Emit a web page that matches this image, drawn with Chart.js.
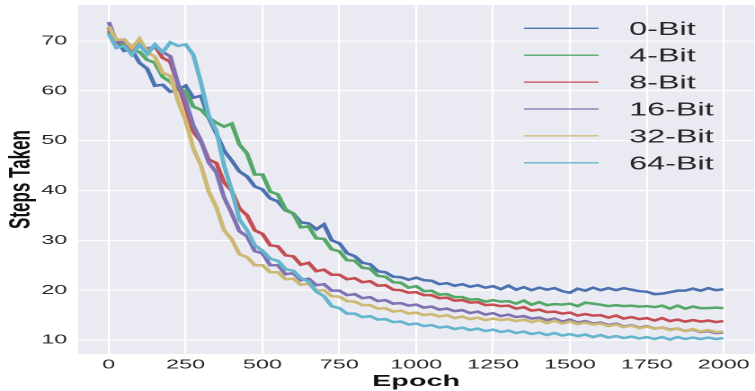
<!DOCTYPE html>
<html><head><meta charset="utf-8">
<script src="https://cdn.jsdelivr.net/npm/chart.js@4/dist/chart.umd.min.js"></script>
<style>
html,body{margin:0;padding:0;background:#fff;overflow:hidden;width:755px;height:391px;}
#wrap{position:absolute;left:0;top:0;width:420px;height:391px;transform:scaleX(1.797619);transform-origin:0 0;}
</style></head><body>
<div id="wrap"><canvas id="c" width="420" height="391"></canvas></div>
<script>
// ---- data ----
const epochs = [0,25,50,75,100,125,150,175,200,225,
  250,275,300,325,350,375,400,425,450,475,
  500,525,550,575,600,625,650,675,700,725,
  750,775,800,825,850,875,900,925,950,975,
  1000,1025,1050,1075,1100,1125,1150,1175,1200,1225,
  1250,1275,1300,1325,1350,1375,1400,1425,1450,1475,
  1500,1525,1550,1575,1600,1625,1650,1675,1700,1725,
  1750,1775,1800,1825,1850,1875,1900,1925,1950,1975,
  1999];
const xTickValues = [0,250,500,750,1000,1250,1500,1750,2000];
const xTickLabels = ['0','250','500','750','1000','1250','1500','1750','2000'];
const yTickValues = [10,20,30,40,50,60,70];
const yTickLabels = ['10','20','30','40','50','60','70'];
const seriesNames = ['0-Bit','4-Bit','8-Bit','16-Bit','32-Bit','64-Bit'];

const bit0 = [72.0,70.3,68.0,68.2,65.6,64.4,61.0,61.2,59.8,60.2,
  61.0,58.6,59.0,54.6,51.4,48.0,46.0,43.8,42.8,40.8,
  40.2,38.4,37.8,36.0,35.4,33.6,33.4,32.2,33.2,30.0,
  29.4,27.4,26.8,25.5,25.2,23.8,23.6,22.7,22.6,22.1,
  22.5,22.0,21.9,21.2,21.4,20.9,21.2,20.7,21.0,20.5,
  20.8,20.2,20.9,20.1,20.6,20.0,20.5,20.1,20.4,19.8,
  19.5,20.3,19.9,20.5,20.0,20.4,20.0,20.4,20.1,19.8,
  19.7,19.2,19.3,19.6,19.9,19.9,20.3,19.9,20.4,20.0,
  20.2];
const bit4 = [71.8,69.8,69.2,68.0,67.8,66.2,65.6,62.8,61.8,60.2,
  60.0,56.8,56.2,54.6,53.6,52.8,53.4,49.2,47.4,43.2,
  43.2,39.8,39.2,36.2,35.4,32.6,32.8,30.4,30.3,28.2,
  27.8,26.0,25.9,24.5,24.3,22.9,22.7,21.6,21.5,20.5,
  20.8,19.8,19.9,19.1,19.2,18.6,18.6,18.1,18.2,17.7,
  18.0,17.7,17.8,17.3,17.9,17.1,17.6,17.0,17.2,17.1,
  17.3,16.8,17.5,17.3,17.1,16.8,17.0,16.8,16.9,16.7,
  16.8,16.6,16.9,16.3,16.9,16.3,16.7,16.4,16.4,16.5,
  16.4];
const bit8 = [72.6,69.6,69.9,68.2,69.6,67.6,69.0,66.6,65.8,61.4,
  56.8,51.8,49.8,46.2,45.5,41.6,39.9,36.4,35.0,32.0,
  31.3,29.0,28.8,27.0,26.8,25.1,25.5,23.8,24.1,23.1,
  23.1,22.2,22.4,21.6,21.8,20.9,21.0,20.1,20.0,19.5,
  19.6,19.0,19.0,18.4,18.5,17.9,18.0,17.5,17.6,17.0,
  17.1,16.8,16.9,16.3,16.6,15.9,16.1,15.6,15.7,15.3,
  15.5,14.9,15.2,14.9,15.0,14.5,14.9,14.3,14.6,14.2,
  14.4,13.9,14.4,13.8,14.1,13.7,14.0,13.7,13.9,13.6,
  13.8];
const bit16 = [73.8,69.8,69.8,68.9,69.0,68.5,68.8,67.8,66.9,61.4,
  58.0,53.0,50.0,45.6,43.6,38.6,35.4,31.8,30.8,27.8,
  27.4,25.0,25.0,23.2,23.4,22.0,22.3,21.0,21.2,19.9,
  19.9,19.0,19.2,18.4,18.6,17.8,18.0,17.3,17.4,16.9,
  17.1,16.5,16.7,16.1,16.3,15.8,16.0,15.4,15.7,15.1,
  15.4,14.8,15.1,14.6,14.8,14.3,14.5,14.0,14.3,13.7,
  14.1,13.5,13.8,13.3,13.5,13.0,13.3,12.7,13.0,12.5,
  12.8,12.3,12.5,12.1,12.3,11.8,12.1,11.6,11.8,11.4,
  11.5];
const bit32 = [72.9,70.2,70.3,68.6,70.4,67.8,66.8,63.6,63.0,58.0,
  54.0,48.4,45.0,39.8,36.6,32.0,30.2,27.2,26.6,25.0,
  25.0,23.6,23.6,22.2,22.3,21.1,21.3,19.9,20.0,18.8,
  18.7,17.8,17.7,17.0,17.0,16.3,16.4,15.7,15.9,15.3,
  15.5,15.0,15.2,14.7,15.0,14.4,14.7,14.2,14.5,14.0,
  14.3,14.0,14.2,13.8,14.1,13.6,14.0,13.4,13.9,13.3,
  13.7,13.2,13.5,13.1,13.3,12.8,13.1,12.6,12.9,12.4,
  12.7,12.3,12.5,12.0,12.3,11.8,12.2,11.7,12.0,11.6,
  11.7];
const bit64 = [71.4,68.6,69.0,67.2,69.2,67.4,69.3,67.7,69.7,69.0,
  69.3,67.2,61.6,55.0,52.0,45.0,40.0,34.2,32.0,29.0,
  27.9,26.3,25.9,24.2,23.9,22.4,21.7,19.7,18.8,16.8,
  16.4,15.3,15.3,14.6,14.8,14.1,14.2,13.6,13.7,13.1,
  13.3,12.8,13.0,12.5,12.7,12.2,12.5,12.0,12.3,11.8,
  12.1,11.6,11.9,11.4,11.7,11.2,11.5,11.0,11.4,10.9,
  11.2,10.8,11.1,10.6,11.0,10.5,10.8,10.4,10.7,10.3,
  10.6,10.2,10.6,10.1,10.6,10.2,10.5,10.2,10.5,10.2,
  10.4];
const seriesValues = [bit0, bit4, bit8, bit16, bit32, bit64];

// ---- styles ----
const colors = ['#4C72B0','#55A868','#C44E52','#8172B2','#CCB974','#64B5CD'];
const FONT = '"Liberation Sans", Arial, sans-serif';

const bgPlugin = {
  id: 'bg',
  beforeDraw(chart) {
    const {ctx, chartArea: a} = chart;
    ctx.save();
    ctx.fillStyle = '#EAEAF2';
    ctx.fillRect(a.left, a.top, a.right - a.left, a.bottom - a.top);
    ctx.restore();
  }
};
const legendPlugin = {
  id: 'mplLegend',
  afterDatasetsDraw(chart) {
    const {ctx, chartArea: a} = chart;
    ctx.save();
    ctx.font = '18px ' + FONT;
    ctx.textBaseline = 'middle';
    ctx.fillStyle = '#262626';
    seriesNames.forEach((name, i) => {
      const y = a.top + 23.3 + i * 26.9;
      ctx.strokeStyle = colors[i];
      ctx.lineWidth = 1.3;
      ctx.beginPath();
      ctx.moveTo(a.right - 128, y);
      ctx.lineTo(a.right - 86.5, y);
      ctx.stroke();
      ctx.fillText(name, a.right - 69.5, y + 1.5);
    });
    ctx.restore();
  }
};

const datasets = seriesNames.map((name, i) => ({
  label: name,
  data: epochs.map((e, j) => ({x: e, y: seriesValues[i][j]})),
  borderColor: colors[i],
  backgroundColor: colors[i],
  borderWidth: 2.5,
  pointRadius: 0,
  tension: 0,
  fill: false,
  order: seriesNames.length - i
}));

new Chart(document.getElementById('c'), {
  type: 'line',
  data: {datasets},
  options: {
    responsive: false,
    animation: false,
    devicePixelRatio: 2,
    layout: {padding: {top: 5, right: 0.5, left: 0, bottom: 0}},
    plugins: {legend: {display: false}, tooltip: {enabled: false}},
    scales: {
      x: {
        type: 'linear', min: -100, max: 2099,
        afterBuildTicks: s => { s.ticks = xTickValues.map(v => ({value: v})); },
        afterFit: s => { s.height = 37; s.paddingLeft = 0; s.paddingRight = 0; },
        grid: {color: '#FFFFFF', lineWidth: 1.1, drawTicks: false},
        border: {display: false},
        ticks: {color: '#262626', font: {family: FONT, size: 13}, padding: 3, maxRotation: 0, autoSkip: false,
          callback: (v, i) => xTickLabels[i]},
        title: {display: true, text: 'Epoch', color: '#111', font: {family: FONT, size: 16, weight: 'bold', lineHeight: 1.2}, padding: {top: 0, bottom: 0}}
      },
      y: {
        type: 'linear', min: 7.2, max: 77.2,
        afterBuildTicks: s => { s.ticks = yTickValues.map(v => ({value: v})); },
        afterFit: s => { s.width = 43.4; s.paddingTop = 0; s.paddingBottom = 0; },
        grid: {color: '#FFFFFF', lineWidth: 1.1, drawTicks: false},
        border: {display: false},
        ticks: {color: '#262626', font: {family: FONT, size: 13}, padding: 6, crossAlign: 'near',
          callback: (v, i) => yTickLabels[i]},
        title: {display: true, text: 'Steps Taken', color: '#111', font: {family: FONT, size: 17, weight: 'bold', lineHeight: 1.2}, padding: {top: 1.8, bottom: 0}}
      }
    }
  },
  plugins: [bgPlugin, legendPlugin]
});
</script>
</body></html>
